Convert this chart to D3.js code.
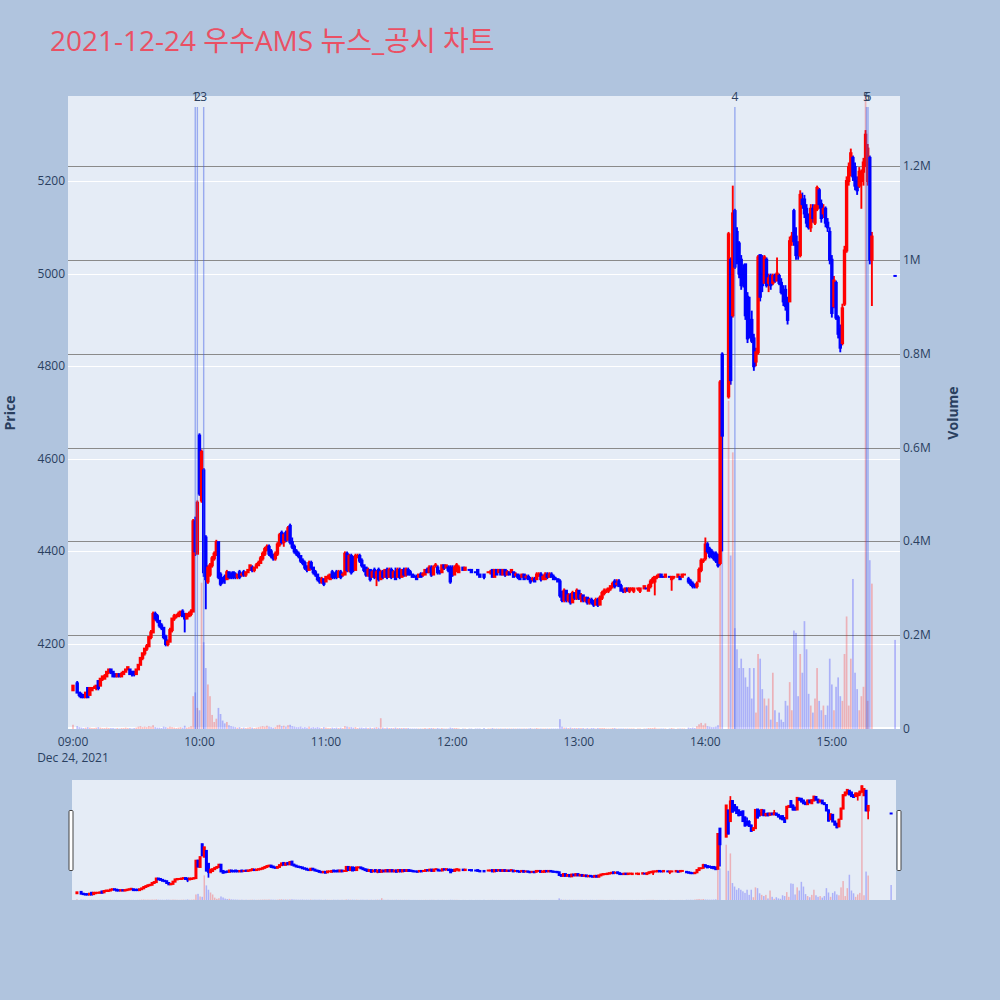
<!DOCTYPE html>
<html>
<head>
<meta charset="utf-8">
<script src="https://cdn.jsdelivr.net/npm/d3@7"></script>
<style>
  html, body { margin: 0; padding: 0; background: #b0c4de; }
  svg { display: block; }
  text { font-family: "Open Sans", "Noto Sans CJK KR", sans-serif; }
</style>
</head>
<body>
<svg id="chart" width="1000" height="1000"></svg>
<script>
// ---------------- DATA (one entry per minute from 09:00; null = no trade) ----------------
const chartTitle = "2021-12-24 우수AMS 뉴스_공시 차트";
const sessionStart = "2021-12-24T09:00:00";

const openP = [
  4100,null,4115,4095,4090,4090,4085,4105,4090,4100,
  4105,4105,4120,4110,4125,4125,4130,4140,4145,4140,
  4135,4130,4135,4130,4135,4140,4145,4145,4140,4140,
  4135,4145,4155,4170,4180,4190,4195,4215,4225,4265,
  4260,4250,4240,4235,4215,4200,4205,4230,4255,4260,
  4260,4265,4270,4265,4255,4260,4265,4270,4465,4395,
  4650,4510,4575,4430,4335,4350,4370,4385,4395,4420,
  4350,4340,4345,4340,4355,4350,4355,4350,4345,4355,
  4350,4355,4350,4355,4360,4365,4360,4365,4370,4375,
  4385,4395,4405,4410,4400,4390,4385,4395,4415,4440,
  4420,4440,4425,4455,4420,4410,4400,4395,4390,4380,
  4375,4365,4360,4375,4365,4355,4350,4340,4335,4340,
  4335,4345,4340,4355,4350,4355,4345,4355,4350,4350,
  4395,4360,4390,4385,4360,4390,4390,4380,4370,4365,
  4350,4360,4345,4360,4345,4360,4340,4355,4345,4360,
  4345,4360,4345,4355,4345,4360,4345,4360,4350,4360,
  4355,4350,4345,4345,4345,4350,4350,4350,4360,4355,
  4365,4350,4370,4365,4355,4355,4370,4365,4365,4365,
  4360,4350,4365,4355,null,4365,4360,null,4360,4360,
  null,4355,4360,4350,null,4350,null,4355,4355,4360,
  4345,4360,4355,4360,4350,4360,4350,4355,4355,4355,
  4350,4350,4345,4345,4350,4345,4345,4340,4340,4340,
  4340,4350,4350,4340,4340,4350,4345,4350,4345,4340,
  4340,4335,4305,4295,4315,4295,4305,4290,4310,4300,
  4315,4300,4305,4295,4300,4290,4295,4290,4285,4295,
  4285,4300,4310,4315,4315,4320,4325,4335,4330,4335,
  4325,4315,4315,4320,4315,4320,4315,null,4320,4315,
  null,4320,4320,4315,4325,4335,4335,4345,4345,4350,
  4345,4345,null,4345,4340,4345,null,4345,4345,4345,
  4350,null,4340,4335,4330,4325,4325,4335,4360,4380,
  4385,4415,4405,4400,4395,4395,4390,4375,4825,null,
  null,4735,5030,4910,5135,5090,5065,5030,5010,5020,
  4950,4900,4900,4860,4810,4830,5040,5000,4980,5030,
  4980,4995,4980,4995,4985,4995,4980,4960,4965,4945,
  4940,5070,5135,5080,5060,5040,5160,5160,5140,5110,
  5100,5140,5110,5140,5180,5150,5130,5140,5110,5090,
  5030,4930,4980,4905,4880,4850,4935,5050,5200,5220,
  5250,5230,5200,5190,5200,5220,5240,5200,5250,5030,
  null,null,null,null,null,null,null,null,null,null,
  4995
];
const highP = [
  4110,null,4120,4095,4095,4090,4095,4105,4105,4105,
  4110,4110,4120,4125,4130,4135,4140,4145,4145,4140,
  4135,4135,4135,4140,4140,4145,4150,4145,4140,4140,
  4145,4155,4170,4180,4190,4200,4215,4230,4270,4270,
  4265,4250,4245,4235,4220,4210,4235,4255,4265,4265,
  4270,4270,4275,4265,4265,4270,4275,4470,4475,4510,
  4655,4620,4580,4435,4370,4375,4390,4400,4425,4420,
  4355,4345,4350,4360,4355,4355,4355,4355,4350,4360,
  4355,4360,4355,4360,4370,4370,4365,4375,4380,4390,
  4400,4410,4415,4415,4405,4395,4400,4420,4440,4445,
  4440,4445,4455,4460,4430,4415,4405,4400,4390,4385,
  4380,4370,4380,4380,4365,4360,4350,4345,4345,4340,
  4345,4350,4350,4360,4355,4360,4360,4360,4355,4400,
  4400,4395,4395,4390,4395,4395,4395,4385,4370,4365,
  4365,4360,4360,4365,4360,4365,4360,4360,4360,4365,
  4365,4365,4360,4365,4365,4365,4360,4365,4365,4365,
  4360,4350,4350,4350,4350,4355,4355,4360,4365,4370,
  4370,4370,4375,4370,4360,4370,4370,4370,4370,4370,
  4370,4370,4375,4370,null,4365,4365,null,4360,4360,
  null,4355,4360,4350,null,4350,null,4355,4360,4360,
  4360,4360,4360,4360,4360,4360,4360,4355,4360,4355,
  4355,4350,4350,4350,4350,4350,4350,4345,4345,4345,
  4355,4355,4355,4350,4355,4355,4355,4355,4350,4345,
  4340,4340,4315,4320,4315,4310,4310,4315,4310,4320,
  4315,4310,4305,4300,4300,4300,4300,4295,4300,4300,
  4305,4315,4320,4320,4320,4325,4335,4340,4340,4340,
  4330,4320,4320,4320,4320,4320,4320,null,4320,4320,
  null,4325,4320,4330,4340,4345,4345,4350,4350,4350,
  4345,4350,null,4345,4345,4345,null,4350,4345,4350,
  4350,null,4345,4340,4335,4330,4335,4365,4385,4385,
  4430,4420,4410,4405,4400,4400,4395,4770,4830,null,
  null,5090,5035,5190,5140,5100,5070,5040,5020,5020,
  4960,4950,4920,4870,4840,5040,5040,5040,5040,5035,
  5000,5000,5000,5000,5035,5000,4990,4975,4975,4950,
  5080,5090,5140,5100,5070,5180,5175,5170,5150,5130,
  5150,5150,5150,5190,5185,5160,5150,5145,5120,5100,
  5040,4995,4985,4910,4890,4935,5060,5210,5240,5270,
  5255,5240,5210,5230,5225,5250,5310,5280,5255,5090,
  null,null,null,null,null,null,null,null,null,null,
  4995
];
const lowP = [
  4100,null,4095,4085,4085,4085,4085,4085,4090,4100,
  4105,4100,4100,4110,4120,4125,4130,4135,4135,4130,
  4130,4130,4130,4130,4135,4140,4145,4135,4130,4130,
  4135,4145,4155,4165,4175,4185,4195,4210,4225,4250,
  4245,4235,4230,4210,4195,4195,4205,4225,4250,4255,
  4260,4260,4260,4225,4255,4260,4260,4270,4390,4395,
  4520,4505,4345,4275,4330,4345,4365,4380,4390,4340,
  4325,4330,4330,4340,4340,4340,4340,4340,4340,4340,
  4345,4345,4345,4355,4360,4355,4355,4365,4370,4375,
  4380,4390,4400,4390,4385,4380,4380,4390,4410,4415,
  4410,4420,4425,4415,4405,4395,4390,4385,4375,4370,
  4360,4355,4360,4360,4350,4345,4335,4330,4330,4325,
  4335,4340,4340,4340,4340,4340,4345,4340,4345,4350,
  4355,4355,4350,4355,4360,4385,4375,4365,4355,4345,
  4345,4335,4345,4340,4325,4335,4340,4340,4345,4340,
  4345,4340,4345,4340,4345,4340,4345,4345,4345,4350,
  4350,4345,4345,4340,4345,4345,4345,4350,4355,4355,
  4345,4350,4365,4350,4350,4355,4360,4365,4355,4330,
  4345,4350,4355,4355,null,4360,4360,null,4360,4355,
  null,4355,4350,4345,null,4340,null,4355,4350,4345,
  4345,4350,4355,4350,4350,4345,4350,4350,4355,4345,
  4345,4340,4340,4345,4340,4340,4340,4330,4335,4335,
  4340,4345,4335,4340,4340,4340,4345,4345,4340,4340,
  4335,4300,4290,4290,4290,4290,4285,4290,4295,4295,
  4295,4290,4290,4290,4285,4285,4285,4280,4285,4280,
  4285,4295,4305,4310,4310,4315,4320,4320,4325,4325,
  4315,4310,4310,4315,4310,4315,4310,null,4315,4310,
  null,4320,4320,4315,4320,4330,4305,4340,4345,4345,
  4345,4345,null,4345,4315,4340,null,4345,4340,4345,
  4350,null,4330,4325,4320,4320,4320,4335,4355,4375,
  4380,4395,4385,4385,4380,4375,4365,4370,4400,null,
  null,4730,4760,4905,5010,5020,4990,4965,4970,4900,
  4850,4860,4850,4790,4800,4825,4940,4960,4980,4970,
  4960,4965,4975,4980,4985,4975,4955,4930,4920,4890,
  4940,5060,5060,5030,5030,5035,5140,5120,5100,5095,
  5090,5110,5105,5135,5140,5110,5120,5100,5090,5020,
  4905,4925,4900,4860,4830,4845,4930,5045,5190,5210,
  5200,5180,5170,5185,5140,5190,5230,5190,5020,4930,
  null,null,null,null,null,null,null,null,null,null,
  4995
];
const closeP = [
  4110,null,4095,4090,4085,4085,4095,4085,4105,4105,
  4105,4110,4105,4125,4130,4130,4140,4145,4140,4130,
  4130,4135,4130,4135,4140,4145,4150,4135,4135,4135,
  4145,4155,4170,4180,4190,4195,4215,4225,4265,4255,
  4250,4240,4235,4215,4200,4205,4230,4255,4260,4260,
  4265,4270,4260,4255,4265,4265,4270,4465,4400,4505,
  4525,4615,4355,4340,4365,4370,4385,4395,4420,4345,
  4330,4335,4340,4355,4345,4345,4345,4345,4350,4345,
  4350,4350,4355,4360,4370,4360,4365,4370,4375,4385,
  4395,4405,4410,4395,4390,4385,4395,4415,4435,4420,
  4435,4425,4450,4420,4410,4400,4395,4390,4380,4375,
  4365,4360,4375,4365,4355,4350,4340,4335,4340,4330,
  4345,4345,4350,4345,4345,4345,4355,4345,4350,4395,
  4360,4390,4355,4360,4390,4390,4380,4370,4360,4350,
  4360,4340,4355,4345,4355,4340,4355,4345,4360,4345,
  4360,4345,4355,4340,4360,4345,4360,4350,4360,4350,
  4350,4345,4345,4340,4350,4345,4350,4360,4355,4365,
  4350,4365,4370,4355,4355,4370,4365,4370,4360,4335,
  4350,4365,4370,4365,null,4360,4365,null,4360,4355,
  null,4355,4350,4345,null,4345,null,4355,4355,4345,
  4360,4350,4360,4350,4360,4350,4355,4350,4360,4345,
  4350,4345,4340,4350,4340,4345,4340,4335,4340,4335,
  4350,4350,4340,4345,4350,4345,4350,4345,4340,4340,
  4335,4305,4295,4315,4295,4305,4290,4310,4300,4315,
  4300,4305,4295,4300,4290,4295,4290,4285,4295,4285,
  4300,4310,4315,4315,4320,4325,4330,4325,4330,4325,
  4315,4315,4320,4315,4320,4320,4320,null,4320,4320,
  null,4325,4320,4325,4335,4340,4345,4345,4350,4345,
  4345,4350,null,4345,4345,4345,null,4350,4340,4350,
  4350,null,4335,4330,4325,4325,4330,4360,4380,4380,
  4415,4400,4390,4395,4385,4380,4370,4765,4650,null,
  null,5085,4770,5130,5015,5030,5000,4975,4980,4910,
  4860,4870,4855,4800,4830,5035,4950,4975,5035,4975,
  4990,4975,4995,4985,5000,4980,4960,4940,4930,4900,
  5070,5080,5070,5040,5040,5170,5150,5130,5110,5100,
  5140,5120,5145,5185,5150,5120,5140,5110,5100,5030,
  4915,4985,4905,4870,4840,4925,5050,5200,5230,5260,
  5210,5190,5180,5220,5220,5240,5300,5270,5030,5080,
  null,null,null,null,null,null,null,null,null,null,
  4995
];
// traded volume, thousands of shares
const volumeK = [
  9,null,6,4,3,2,3,4,3,2,
  2,3,4,3,2,2,3,2,2,2,
  1,2,1,2,2,3,2,2,1,2,
  3,5,6,4,5,4,6,5,8,4,
  3,3,2,5,4,3,5,4,3,2,
  3,4,3,7,3,4,6,70,78,45,
  40,312,185,130,95,70,30,15,22,45,
  32,18,12,15,8,6,5,4,3,4,
  2,3,2,3,4,3,2,3,4,5,
  6,5,7,5,4,3,4,8,9,6,
  7,5,8,9,6,5,4,4,5,3,
  4,3,5,3,4,3,4,3,2,4,
  3,2,2,3,2,3,2,3,2,6,
  5,4,4,3,4,2,3,3,2,3,
  2,3,2,3,4,3,23,3,2,3,
  2,2,2,3,2,2,2,2,2,2,
  1,1,1,1,1,1,1,2,1,2,
  2,2,1,2,1,2,1,1,1,3,
  2,2,2,1,null,1,1,null,1,1,
  null,1,1,1,null,2,null,1,1,2,
  1,1,1,1,1,1,1,1,1,1,
  1,1,1,1,1,1,1,2,1,1,
  2,1,1,1,1,1,1,1,1,1,
  1,21,5,3,3,2,3,2,2,2,
  2,2,2,1,2,1,2,2,1,2,
  2,2,2,1,1,1,2,2,1,1,
  1,1,1,1,1,1,1,null,1,1,
  null,1,1,2,2,2,3,1,1,1,
  1,1,null,1,2,1,null,1,1,1,
  1,null,3,2,3,2,6,10,13,8,
  12,6,5,4,4,5,8,730,400,null,
  null,700,370,590,215,170,130,150,130,110,
  90,130,65,130,35,160,150,85,65,50,
  65,20,120,40,15,35,20,15,60,50,
  100,40,210,205,70,160,120,230,170,75,
  50,35,65,130,60,40,50,30,50,150,
  95,40,90,110,70,60,160,240,50,150,
  320,120,85,40,70,90,1450,60,360,310,
  null,null,null,null,null,null,null,null,null,null,
  190
];

const newsTimes  = ["09:58:00", "09:59:00", "10:02:00", "14:14:00", "15:16:25", "15:17:10"];
const newsLabels = ["1", "2", "3", "4", "5", "6"];

const priceTicks = [4200, 4400, 4600, 4800, 5000, 5200];
const volumeTicks = [0, 200000, 400000, 600000, 800000, 1000000, 1200000];
const volumeTickLabels = ["0", "0.2M", "0.4M", "0.6M", "0.8M", "1M", "1.2M"];
const timeTicks = ["09:00", "10:00", "11:00", "12:00", "13:00", "14:00", "15:00"];
const dateTickLabel = "Dec 24, 2021";

// ---------------- BUILD ----------------
const parseFull = d3.timeParse("%Y-%m-%dT%H:%M:%S");
const t0 = parseFull(sessionStart);
const atTime = s => parseFull("2021-12-24T" + (s.length === 5 ? s + ":00" : s));

const bars = [];
let prevClose = null, prevInc = true;
for (let i = 0; i < closeP.length; i++) {
  if (closeP[i] == null) continue;
  const o = openP[i], c = closeP[i];
  let inc;
  if (c > o) inc = true;
  else if (c < o) inc = false;
  else inc = prevClose == null ? true : (c > prevClose ? true : (c < prevClose ? false : prevInc));
  bars.push({ t: d3.timeMinute.offset(t0, i), o, h: highP[i], l: lowP[i], c, v: volumeK[i] * 1000, inc });
  prevClose = c; prevInc = inc;
}

const RED = "#ff0000", BLUE = "#0000ff";
const svg = d3.select("#chart");
const FONT_COLOR = "#2a3f5f";

// layout
const plot = { x0: 68, x1: 900, y0: 96, y1: 729 };
const slider = { x0: 72, x1: 896, y0: 780, y1: 900 };

const xDomain = [parseFull("2021-12-24T08:57:38"), parseFull("2021-12-24T15:32:20")];
const x = d3.scaleTime().domain(xDomain).range([plot.x0, plot.x1]);
const yP = d3.scaleLinear().domain([4016.4, 5383.6]).range([plot.y1, plot.y0]);
const yV = d3.scaleLinear().domain([0, 1350000]).range([plot.y1, plot.y0]);

const xs = d3.scaleTime().domain(xDomain).range([slider.x0, slider.x1]);
const ysP = d3.scaleLinear().domain([4024, 5371]).range([slider.y1, slider.y0]);
const ysV = d3.scaleLinear().domain([0, 1520000]).range([slider.y1, slider.y0]);

// title
svg.append("text").attr("x", 50).attr("y", 51)
  .attr("font-size", 28).attr("fill", "#ea5064").text(chartTitle);

// defs / clips
const defs = svg.append("defs");
defs.append("clipPath").attr("id", "clipMain").append("rect")
  .attr("x", plot.x0).attr("y", plot.y0).attr("width", plot.x1 - plot.x0).attr("height", plot.y1 - plot.y0);
defs.append("clipPath").attr("id", "clipSlider").append("rect")
  .attr("x", slider.x0).attr("y", slider.y0).attr("width", slider.x1 - slider.x0).attr("height", slider.y1 - slider.y0);

// main background
svg.append("rect").attr("x", plot.x0).attr("y", plot.y0)
  .attr("width", plot.x1 - plot.x0).attr("height", plot.y1 - plot.y0).attr("fill", "#e5ecf6");

// price grid (white)
svg.append("g").selectAll("line").data(priceTicks).join("line")
  .attr("x1", plot.x0).attr("x2", plot.x1)
  .attr("y1", d => Math.round(yP(d)) + 0.5).attr("y2", d => Math.round(yP(d)) + 0.5)
  .attr("stroke", "#ffffff").attr("stroke-width", 1);
// volume grid (gray)
svg.append("g").selectAll("line").data(volumeTicks.filter(d => d > 0)).join("line")
  .attr("x1", plot.x0).attr("x2", plot.x1)
  .attr("y1", d => Math.round(yV(d)) + 0.5).attr("y2", d => Math.round(yV(d)) + 0.5)
  .attr("stroke", "#8a8a8a").attr("stroke-width", 1);
// zero line
svg.append("line").attr("x1", plot.x0).attr("x2", plot.x1)
  .attr("y1", yV(0) - 1).attr("y2", yV(0) - 1).attr("stroke", "#ffffff").attr("stroke-width", 2);

function drawSeries(g, xsc, ypr, yvo, barW, bodyHalf, wickW) {
  g.append("g").selectAll("rect").data(bars.filter(d => d.v > 0)).join("rect")
    .attr("x", d => xsc(d.t) - barW / 2).attr("width", barW)
    .attr("y", d => yvo(d.v)).attr("height", d => yvo(0) - yvo(d.v))
    .attr("fill", d => d.inc ? "rgba(255,0,0,0.25)" : "rgba(0,0,255,0.25)");
  const cg = g.append("g");
  cg.selectAll("line").data(bars).join("line")
    .attr("x1", d => xsc(d.t)).attr("x2", d => xsc(d.t))
    .attr("y1", d => ypr(d.h)).attr("y2", d => ypr(d.l))
    .attr("stroke", d => d.inc ? RED : BLUE).attr("stroke-width", wickW);
  cg.selectAll("rect").data(bars).join("rect")
    .attr("x", d => xsc(d.t) - bodyHalf).attr("width", bodyHalf * 2)
    .attr("y", d => Math.min(ypr(d.o), ypr(d.c)) - 1)
    .attr("height", d => Math.abs(ypr(d.o) - ypr(d.c)) + 2)
    .attr("fill", d => d.inc ? RED : BLUE);
}

const mainG = svg.append("g").attr("clip-path", "url(#clipMain)");
drawSeries(mainG, x, yP, yV, 1.7, 1.7, 1.9);

// news markers
const news = newsTimes.map((s, i) => ({ t: atTime(s), label: newsLabels[i] }));
svg.append("g").selectAll("line").data(news).join("line")
  .attr("x1", d => x(d.t)).attr("x2", d => x(d.t))
  .attr("y1", 107).attr("y2", plot.y1)
  .attr("stroke", "rgba(60,90,230,0.45)").attr("stroke-width", 1.4);
svg.append("g").selectAll("text").data(news).join("text")
  .attr("x", d => x(d.t)).attr("y", 101).attr("text-anchor", "middle")
  .attr("font-size", 12).attr("fill", FONT_COLOR).text(d => d.label);

// left axis labels
svg.append("g").selectAll("text").data(priceTicks).join("text")
  .attr("x", 65).attr("y", d => yP(d) + 4).attr("text-anchor", "end")
  .attr("font-size", 12).attr("fill", FONT_COLOR).text(d => d);
// right axis labels
svg.append("g").selectAll("text").data(volumeTicks).join("text")
  .attr("x", 903).attr("y", d => yV(d) + 4).attr("text-anchor", "start")
  .attr("font-size", 12).attr("fill", FONT_COLOR).text((d, i) => volumeTickLabels[i]);
// x tick labels
svg.append("g").selectAll("text").data(timeTicks).join("text")
  .attr("x", d => x(atTime(d))).attr("y", 746).attr("text-anchor", "middle")
  .attr("font-size", 12).attr("fill", FONT_COLOR).text(d => d);
svg.append("text").attr("x", x(atTime(timeTicks[0]))).attr("y", 762).attr("text-anchor", "middle")
  .attr("font-size", 12).attr("fill", FONT_COLOR).text(dateTickLabel);

// axis titles
svg.append("text").attr("transform", "translate(15,413) rotate(-90)").attr("text-anchor", "middle")
  .attr("font-size", 14).attr("font-weight", "bold").attr("fill", FONT_COLOR).text("Price");
svg.append("text").attr("transform", "translate(958,413) rotate(-90)").attr("text-anchor", "middle")
  .attr("font-size", 14).attr("font-weight", "bold").attr("fill", FONT_COLOR).text("Volume");

// range slider
svg.append("rect").attr("x", slider.x0).attr("y", slider.y0)
  .attr("width", slider.x1 - slider.x0).attr("height", slider.y1 - slider.y0).attr("fill", "#e5ecf6");
const sG = svg.append("g").attr("clip-path", "url(#clipSlider)");
drawSeries(sG, xs, ysP, ysV, 1.5, 1.5, 1.7);
[slider.x0 - 2.5, slider.x1 + 1.5].forEach(hx => {
  svg.append("rect").attr("x", hx - 0.5).attr("y", 810.5).attr("width", 4).attr("height", 60)
    .attr("rx", 1).attr("fill", "#ffffff").attr("stroke", "#444").attr("stroke-width", 1);
});
</script>
</body>
</html>
